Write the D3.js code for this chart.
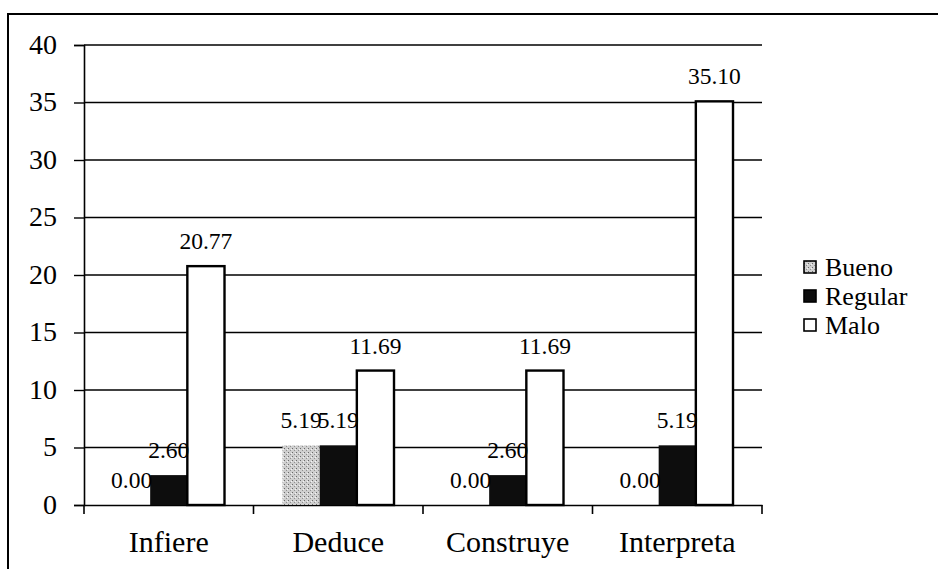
<!DOCTYPE html>
<html><head><meta charset="utf-8">
<script src="https://cdn.jsdelivr.net/npm/d3@7"></script>
<style>body{margin:0;background:#fff}svg{display:block}
svg text{font-family:"Liberation Serif","Times New Roman",Times,serif;fill:#000}</style>
</head><body>
<script>
const categories = ["Infiere", "Deduce", "Construye", "Interpreta"];
const seriesNames = ["Bueno", "Regular", "Malo"];
const bueno = [0.00, 5.19, 0.00, 0.00];
const regular = [2.60, 5.19, 2.60, 5.19];
const malo = [20.77, 11.69, 11.69, 35.10];
const yTicks = [0, 5, 10, 15, 20, 25, 30, 35, 40];

const W = 938, H = 569;
const margin = {left: 84, right: 176, top: 45, bottom: 64};
const svg = d3.select("body").append("svg").attr("width", W).attr("height", H);

const defs = svg.append("defs");
const pat = defs.append("pattern").attr("id", "stip").attr("patternUnits", "userSpaceOnUse")
  .attr("width", 4).attr("height", 4);
pat.append("rect").attr("width", 4).attr("height", 4).attr("fill", "#cfcfcf");
pat.append("rect").attr("x", 0).attr("y", 0).attr("width", 1).attr("height", 1).attr("fill", "#6a6a6a");
pat.append("rect").attr("x", 2).attr("y", 2).attr("width", 1).attr("height", 1).attr("fill", "#909090");
pat.append("rect").attr("x", 3).attr("y", 1).attr("width", 1).attr("height", 1).attr("fill", "#f4f4f4");

svg.append("path").attr("d", `M8,${H} L8,14 L${W},14`).attr("fill", "none")
  .attr("stroke", "#000").attr("stroke-width", 2);

const x0 = d3.scaleBand().domain(categories).range([margin.left, W - margin.right]).paddingInner(0).paddingOuter(0);
const x1 = d3.scaleBand().domain(seriesNames).range([0, x0.bandwidth()]).paddingInner(0).paddingOuter(0.78);
const y = d3.scaleLinear().domain([0, 40]).range([H - margin.bottom, margin.top]);

svg.append("g").selectAll("line").data(yTicks.filter(d => d > 0)).join("line")
  .attr("x1", margin.left).attr("x2", W - margin.right)
  .attr("y1", d => y(d)).attr("y2", d => y(d))
  .attr("stroke", "#000").attr("stroke-width", 1.4);

const ya = svg.append("g").attr("transform", `translate(${margin.left},0)`)
  .call(d3.axisLeft(y).tickValues(yTicks).tickSize(10).tickPadding(17).tickFormat(d3.format("d")));
ya.select(".domain").attr("stroke", "#000").attr("stroke-width", 1.6);
ya.selectAll(".tick line").attr("stroke", "#000").attr("stroke-width", 1.4);
ya.selectAll("text").attr("font-size", 28).attr("dy", "0.3em");

const xa = svg.append("g").attr("transform", `translate(0,${y(0)})`)
  .call(d3.axisBottom(x0).tickSize(0));
xa.select(".domain").attr("stroke", "#000").attr("stroke-width", 1.6);
xa.selectAll("text").attr("font-size", 30).attr("y", 47).attr("dy", 0);
const bounds = categories.map(c => x0(c)).concat([x0(categories[categories.length - 1]) + x0.bandwidth()]);
xa.append("g").selectAll("line").data(bounds).join("line")
  .attr("x1", d => d).attr("x2", d => d).attr("y1", 0).attr("y2", 9)
  .attr("stroke", "#000").attr("stroke-width", 1.6);

const data = [];
categories.forEach((c, i) => {
  data.push({c, s: "Bueno", v: bueno[i]});
  data.push({c, s: "Regular", v: regular[i]});
  data.push({c, s: "Malo", v: malo[i]});
});
const fill = {Bueno: "url(#stip)", Regular: "#0d0d0d", Malo: "#fff"};

svg.append("g").selectAll("rect").data(data.filter(d => d.v > 0)).join("rect")
  .attr("x", d => x0(d.c) + x1(d.s))
  .attr("y", d => y(d.v))
  .attr("width", x1.bandwidth())
  .attr("height", d => y(0) - y(d.v))
  .attr("fill", d => fill[d.s])
  .attr("stroke", d => d.s === "Malo" ? "#000" : "none")
  .attr("stroke-width", 2.4);

svg.append("g").selectAll("text").data(data).join("text")
  .attr("x", d => x0(d.c) + x1(d.s) + x1.bandwidth() / 2)
  .attr("y", d => y(d.v) - 17)
  .attr("text-anchor", "middle")
  .attr("font-size", 23.5)
  .text(d => d.v.toFixed(2));

const lg = svg.append("g").attr("transform", "translate(804,267)");
seriesNames.forEach((s, i) => {
  const g = lg.append("g").attr("transform", `translate(0,${i * 29})`);
  g.append("rect").attr("x", 0).attr("y", -6).attr("width", 12).attr("height", 12)
    .attr("fill", fill[s])
    .attr("stroke", "#000").attr("stroke-width", 1.6);
  g.append("text").attr("x", 21).attr("y", 9)
    .attr("font-size", 26).text(s);
});
</script>
</body></html>
